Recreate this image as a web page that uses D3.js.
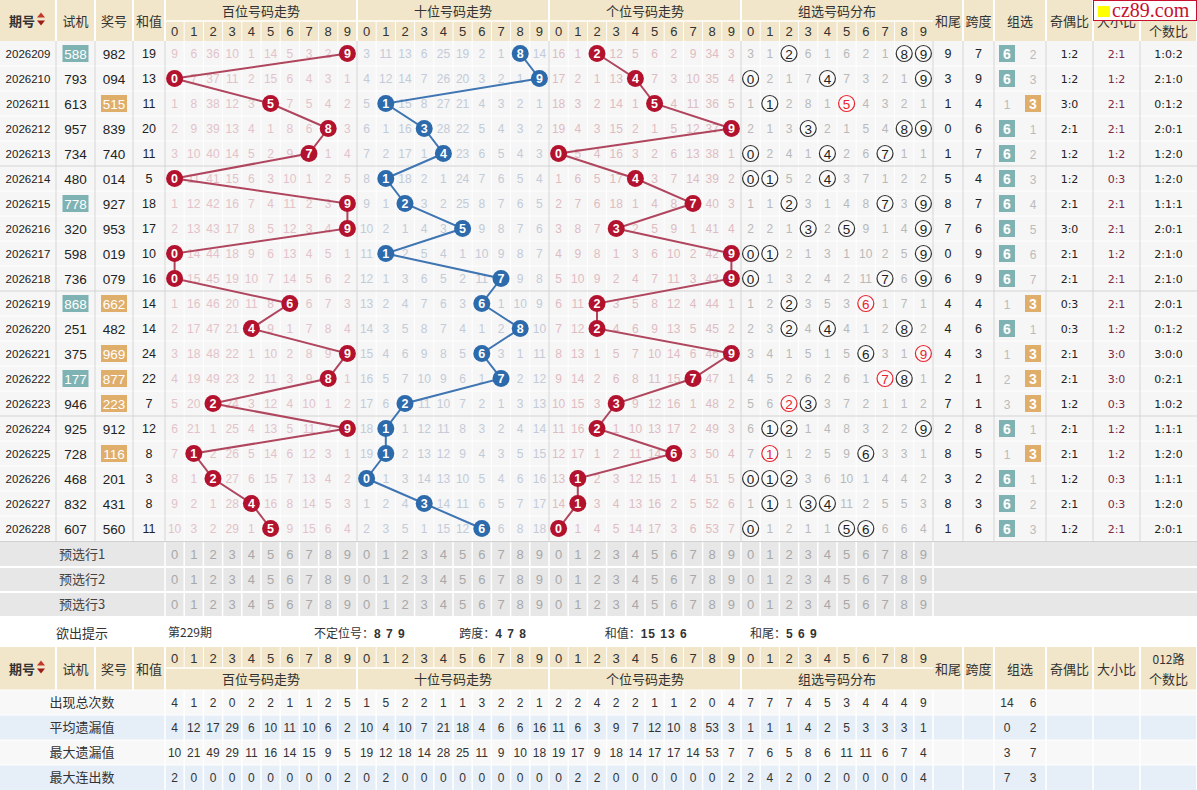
<!DOCTYPE html>
<html>
<head>
<meta charset="utf-8">
<script src="https://cdn.jsdelivr.net/npm/d3@7"></script>
<style>
body { margin: 0; background: #fff; }
svg { display: block; }
</style>
</head>
<body>
<svg id="chart" width="1197" height="790"></svg>
<script>
const width = 1197;
const height = 790;

// 期号、试机号、开奖号、和值
const periods = ["2026209","2026210","2026211","2026212","2026213","2026214","2026215","2026216","2026217","2026218",
    "2026219","2026220","2026221","2026222","2026223","2026224","2026225","2026226","2026227","2026228"];
const testNums = ["588","793","613","957","734","480","778","320","598","736",
    "868","251","375","177","946","925","728","468","832","607"];
const drawNums = ["982","094","515","839","740","014","927","953","019","079",
    "662","482","969","877","223","912","116","201","431","560"];
const sums = [19,13,11,20,11,5,18,17,10,16,14,14,24,22,7,12,8,3,8,11];

// 遗漏值 (0 = 当期开出)
const hundredsMiss = [
    [9,6,36,10,1,14,5,3,2,0],[0,7,37,11,2,15,6,4,3,1],[1,8,38,12,3,0,7,5,4,2],[2,9,39,13,4,1,8,6,0,3],
    [3,10,40,14,5,2,9,0,1,4],[0,11,41,15,6,3,10,1,2,5],[1,12,42,16,7,4,11,2,3,0],[2,13,43,17,8,5,12,3,4,0],
    [0,14,44,18,9,6,13,4,5,1],[0,15,45,19,10,7,14,5,6,2],[1,16,46,20,11,8,0,6,7,3],[2,17,47,21,0,9,1,7,8,4],
    [3,18,48,22,1,10,2,8,9,0],[4,19,49,23,2,11,3,9,0,1],[5,20,0,24,3,12,4,10,1,2],[6,21,1,25,4,13,5,11,2,0],
    [7,0,2,26,5,14,6,12,3,1],[8,1,0,27,6,15,7,13,4,2],[9,2,1,28,0,16,8,14,5,3],[10,3,2,29,1,0,9,15,6,4]
];
const tensMiss = [
    [3,11,13,6,25,19,2,1,0,14],[4,12,14,7,26,20,3,2,1,0],[5,0,15,8,27,21,4,3,2,1],[6,1,16,0,28,22,5,4,3,2],
    [7,2,17,1,0,23,6,5,4,3],[8,0,18,2,1,24,7,6,5,4],[9,1,0,3,2,25,8,7,6,5],[10,2,1,4,3,0,9,8,7,6],
    [11,0,2,5,4,1,10,9,8,7],[12,1,3,6,5,2,11,0,9,8],[13,2,4,7,6,3,0,1,10,9],[14,3,5,8,7,4,1,2,0,10],
    [15,4,6,9,8,5,0,3,1,11],[16,5,7,10,9,6,1,0,2,12],[17,6,0,11,10,7,2,1,3,13],[18,0,1,12,11,8,3,2,4,14],
    [19,0,2,13,12,9,4,3,5,15],[0,1,3,14,13,10,5,4,6,16],[1,2,4,0,14,11,6,5,7,17],[2,3,5,1,15,12,0,6,8,18]
];
const unitsMiss = [
    [16,1,0,12,5,6,2,9,34,3],[17,2,1,13,0,7,3,10,35,4],[18,3,2,14,1,0,4,11,36,5],[19,4,3,15,2,1,5,12,37,0],
    [0,5,4,16,3,2,6,13,38,1],[1,6,5,17,0,3,7,14,39,2],[2,7,6,18,1,4,8,0,40,3],[3,8,7,0,2,5,9,1,41,4],
    [4,9,8,1,3,6,10,2,42,0],[5,10,9,2,4,7,11,3,43,0],[6,11,0,3,5,8,12,4,44,1],[7,12,0,4,6,9,13,5,45,2],
    [8,13,1,5,7,10,14,6,46,0],[9,14,2,6,8,11,15,0,47,1],[10,15,3,0,9,12,16,1,48,2],[11,16,0,1,10,13,17,2,49,3],
    [12,17,1,2,11,14,0,3,50,4],[13,0,2,3,12,15,1,4,51,5],[14,0,3,4,13,16,2,5,52,6],[0,1,4,5,14,17,3,6,53,7]
];
const groupMiss = [
    [3,1,0,6,1,6,2,1,0,0],[0,2,1,7,0,7,3,2,1,0],[1,0,2,8,1,0,4,3,2,1],[2,1,3,0,2,1,5,4,0,0],
    [0,2,4,1,0,2,6,0,1,1],[0,0,5,2,0,3,7,1,2,2],[1,1,0,3,1,4,8,0,3,0],[2,2,1,0,2,0,9,1,4,0],
    [0,0,2,1,3,1,10,2,5,0],[0,1,3,2,4,2,11,0,6,0],[1,2,0,3,5,3,0,1,7,1],[2,3,0,4,0,4,1,2,0,2],
    [3,4,1,5,1,5,0,3,1,0],[4,5,2,6,2,6,1,0,0,1],[5,6,0,0,3,7,2,1,1,2],[6,0,0,1,4,8,3,2,2,0],
    [7,0,1,2,5,9,0,3,3,1],[0,0,0,3,6,10,1,4,4,2],[1,0,1,0,0,11,2,5,5,3],[0,1,2,1,1,0,0,6,6,4]
];

const sumTails = [9,3,1,0,1,5,8,7,0,6,4,4,4,2,7,2,8,3,8,1];
const spans = [7,9,4,6,7,4,7,6,9,9,4,6,3,1,1,8,5,2,3,6];
const group6Miss = [0,0,1,0,0,0,0,0,0,0,1,0,1,2,3,0,1,0,0,0];
const group3Miss = [2,3,0,1,2,3,4,5,6,7,0,1,0,0,0,1,0,1,2,3];
const oddEven = ["1:2","1:2","3:0","2:1","1:2","1:2","2:1","3:0","2:1","2:1","0:3","0:3","2:1","2:1","1:2","2:1","2:1","1:2","2:1","1:2"];
const bigSmall = ["2:1","1:2","2:1","2:1","1:2","0:3","2:1","2:1","1:2","2:1","2:1","1:2","3:0","3:0","0:3","1:2","1:2","0:3","0:3","2:1"];
const road012 = ["1:0:2","2:1:0","0:1:2","2:0:1","1:2:0","1:2:0","1:1:1","2:0:1","2:1:0","2:1:0",
    "2:0:1","0:1:2","3:0:0","0:2:1","1:0:2","1:1:1","1:2:0","1:1:1","1:2:0","2:0:1"];

const sectionNames = ["百位号码走势","十位号码走势","个位号码走势","组选号码分布"];
const preLabels = ["预选行1","预选行2","预选行3"];
const hintTitle = "欲出提示";
const hintIssue = "第229期";
const hintLabels = ["不定位号","跨度","和值","和尾"];
const hintValues = ["8 7 9","4 7 8","15 13 6","5 6 9"];

const statLabels = ["出现总次数","平均遗漏值","最大遗漏值","最大连出数"];
const statValues = [
    [4,1,2,0,2,2,1,1,2,5, 1,5,2,2,1,1,3,2,2,1, 2,2,4,2,2,1,1,2,0,4, 7,7,7,4,5,3,4,4,4,9],
    [4,12,17,29,6,10,11,10,6,2, 10,4,10,7,21,18,4,6,6,16, 11,6,3,9,7,12,10,8,53,3, 1,1,1,4,2,5,3,3,3,1],
    [10,21,49,29,11,16,14,15,9,5, 19,12,18,14,28,25,11,9,10,18, 19,17,9,18,14,17,17,14,53,7, 7,6,5,8,6,11,11,6,7,4],
    [2,0,0,0,0,0,0,0,0,2, 0,2,0,0,0,0,0,0,0,0, 0,2,2,0,0,0,0,0,0,2, 2,4,2,0,2,0,0,0,0,4]
];
const statGroup = [[14,6],[0,2],[3,7],[7,3]];

const fontNum = "'Liberation Sans', Arial, sans-serif";
const fontCJK = "'Noto Sans CJK SC', 'Liberation Sans', sans-serif";

const leftCols = [
    {name: "期号", x0: 0, x1: 56},
    {name: "试机", x0: 56, x1: 95},
    {name: "奖号", x0: 95, x1: 133},
    {name: "和值", x0: 133, x1: 165}
];
const rightCols = [
    {name: "和尾", x0: 933, x1: 963},
    {name: "跨度", x0: 963, x1: 994},
    {name: "组选", x0: 994, x1: 1046},
    {name: "奇偶比", x0: 1046, x1: 1093},
    {name: "大小比", x0: 1093, x1: 1140},
    {name: "012路", x0: 1140, x1: 1197}
];
const mid = c => (c.x0 + c.x1) / 2;

const svg = d3.select("#chart");

const sec = d3.scaleBand().domain(sectionNames).range([165, 933]);
const dig = d3.scaleBand().domain(d3.range(10)).range([0, sec.bandwidth()]);
const cx = (s, k) => sec(sectionNames[s]) + dig(k) + dig.bandwidth() / 2;
const y = d3.scaleBand().domain(periods).range([41, 541]);
const cy = p => y(p) + y.bandwidth() / 2;

const isPair = s => new Set(s.split("")).size < 3;
const pairDigit = s => s.split("").find((c, i, a) => a.indexOf(c) !== i);

const headFill = "#f1e6c9";
const allDigits = d3.range(40).map(i => ({s: Math.floor(i / 10), k: i % 10}));

// ---------- 表头 ----------
function drawHeader(top, digitsFirst) {
    const g = svg.append("g");
    const h = top === 0 ? 41 : 43;
    const half = top === 0 ? 21 : 21;
    g.append("rect").attr("x", 0).attr("y", top).attr("width", width).attr("height", h).attr("fill", headFill);

    const digY = digitsFirst ? top : top + half;
    const titY = digitsFirst ? top + half : top;

    // 白色分隔线
    leftCols.concat(rightCols).forEach(c => {
        g.append("line").attr("x1", c.x1).attr("x2", c.x1).attr("y1", top).attr("y2", top + h)
            .attr("stroke", "#fff").attr("stroke-width", 2);
    });
    sectionNames.forEach((n, s) => {
        g.append("line").attr("x1", sec(n)).attr("x2", sec(n)).attr("y1", top).attr("y2", top + h)
            .attr("stroke", "#fff").attr("stroke-width", 2);
    });
    g.append("line").attr("x1", 165).attr("x2", 933).attr("y1", top + half).attr("y2", top + half)
        .attr("stroke", "#fff").attr("stroke-width", 1.5);
    g.selectAll(".dl").data(allDigits.filter(d => d.k > 0)).enter().append("line")
        .attr("x1", d => sec(sectionNames[d.s]) + dig(d.k)).attr("x2", d => sec(sectionNames[d.s]) + dig(d.k))
        .attr("y1", digY).attr("y2", digY + (digitsFirst ? half : h - half))
        .attr("stroke", "#fff").attr("stroke-width", 1);

    g.selectAll(".tt").data(sectionNames).enter().append("text")
        .attr("x", d => sec(d) + sec.bandwidth() / 2)
        .attr("y", titY + (digitsFirst ? h - half : half) / 2 + 5)
        .attr("text-anchor", "middle").attr("font-family", fontCJK).attr("font-size", 13).attr("fill", "#333")
        .text(d => d);
    g.selectAll(".dt").data(allDigits).enter().append("text")
        .attr("x", d => cx(d.s, d.k)).attr("y", digY + (digitsFirst ? half : h - half) / 2 + 5)
        .attr("text-anchor", "middle").attr("font-family", fontNum).attr("font-size", 13).attr("fill", "#333")
        .text(d => d.k);

    const my = top + h / 2 + 5;
    leftCols.forEach((c, i) => {
        g.append("text").attr("x", i === 0 ? 22 : mid(c)).attr("y", my).attr("text-anchor", "middle")
            .attr("font-family", fontCJK).attr("font-size", 13)
            .attr("font-weight", i === 0 ? "bold" : "normal").attr("fill", "#333").text(c.name);
    });
    // 排序箭头
    g.append("path").attr("d", `M37,${my - 8} l4,-5 l4,5 z`).attr("fill", "#c0392b");
    g.append("path").attr("d", `M37,${my - 5} l4,5 l4,-5 z`).attr("fill", "#9b1c1c");

    rightCols.forEach(c => {
        if (c.name === "012路") {
            g.append("text").attr("x", mid(c)).attr("y", my - 10).attr("text-anchor", "middle")
                .attr("font-family", fontCJK).attr("font-size", 12).attr("fill", "#333").text("012路");
            g.append("text").attr("x", mid(c)).attr("y", my + 10).attr("text-anchor", "middle")
                .attr("font-family", fontCJK).attr("font-size", 13).attr("fill", "#333").text("个数比");
        } else {
            g.append("text").attr("x", mid(c)).attr("y", my).attr("text-anchor", "middle")
                .attr("font-family", fontCJK).attr("font-size", 13).attr("fill", "#333").text(c.name);
        }
    });
}
drawHeader(0, false);

// ---------- 数据区背景 ----------
const body = svg.append("g");
body.append("rect").attr("x", 0).attr("y", 41).attr("width", width).attr("height", 500).attr("fill", "#f6f6f6");
body.selectAll(".rl").data(periods).enter().append("line")
    .attr("x1", 0).attr("x2", width).attr("y1", d => y(d) + y.bandwidth()).attr("y2", d => y(d) + y.bandwidth())
    .attr("stroke", "#fff").attr("stroke-width", 1);
body.selectAll(".vl").data(allDigits.filter(d => d.k > 0)).enter().append("line")
    .attr("x1", d => sec(sectionNames[d.s]) + dig(d.k)).attr("x2", d => sec(sectionNames[d.s]) + dig(d.k))
    .attr("y1", 41).attr("y2", 541).attr("stroke", "#fff").attr("stroke-width", 1);
const borderX = leftCols.map(c => c.x1).concat(sectionNames.map(n => sec(n) + sec.bandwidth()), rightCols.slice(0, 5).map(c => c.x1));
body.selectAll(".bl").data(borderX).enter().append("line")
    .attr("x1", d => d).attr("x2", d => d).attr("y1", 41).attr("y2", 541)
    .attr("stroke", "#d6d6d6").attr("stroke-width", 1);
body.selectAll(".gl").data([4, 9, 14]).enter().append("line")
    .attr("x1", 0).attr("x2", width)
    .attr("y1", d => y(periods[d]) + y.bandwidth()).attr("y2", d => y(periods[d]) + y.bandwidth())
    .attr("stroke", "#d0d0d0").attr("stroke-width", 1);

// ---------- 左侧列 ----------
const rows = body.selectAll(".row").data(periods).enter().append("g");
rows.append("text").attr("x", 28).attr("y", d => cy(d) + 4).attr("text-anchor", "middle")
    .attr("font-family", fontNum).attr("font-size", 11.5).attr("fill", "#222").text(d => d);

function numCell(arr, col, fill) {
    rows.filter((d, i) => isPair(arr[i])).append("rect")
        .attr("x", mid(col) - 13).attr("y", d => cy(d) - 8.5).attr("width", 26).attr("height", 17).attr("fill", fill);
    rows.append("text").attr("x", mid(col)).attr("y", d => cy(d) + 5).attr("text-anchor", "middle")
        .attr("font-family", fontNum).attr("font-size", 13.5)
        .attr("fill", (d, i) => isPair(arr[i]) ? "#fff" : "#222").text((d, i) => arr[i]);
}
numCell(testNums, leftCols[1], "#7fb3b3");
numCell(drawNums, leftCols[2], "#dfae6b");
rows.append("text").attr("x", mid(leftCols[3])).attr("y", d => cy(d) + 4.5).attr("text-anchor", "middle")
    .attr("font-family", fontNum).attr("font-size", 12.5).attr("fill", "#222").text((d, i) => sums[i]);

// ---------- 遗漏值 ----------
const missTables = [hundredsMiss, tensMiss, unitsMiss, groupMiss];
const missColors = ["#e3c3c9", "#c3cbd8", "#dfbcc2", "#b9b9b9"];
missTables.forEach((tab, s) => {
    const cells = [];
    tab.forEach((r, i) => r.forEach((v, k) => { if (v > 0) cells.push({i, k, v}); }));
    body.selectAll(".m" + s).data(cells).enter().append("text")
        .attr("x", d => cx(s, d.k)).attr("y", d => cy(periods[d.i]) + 4.5)
        .attr("text-anchor", "middle").attr("font-family", fontNum).attr("font-size", 12)
        .attr("fill", missColors[s]).text(d => d.v);
});

// ---------- 走势线与号码球 ----------
const ballColors = ["#b3122e", "#2c6aab", "#b3122e"];
const lineColors = ["#b0455e", "#3e75b2", "#b0455e"];
const line = d3.line().x(d => d[0]).y(d => d[1]);
[0, 1, 2].forEach(s => {
    const pts = drawNums.map((n, i) => [cx(s, +n[s]), cy(periods[i])]);
    body.append("path").attr("d", line(pts)).attr("fill", "none")
        .attr("stroke", lineColors[s]).attr("stroke-width", 2);
    const balls = body.selectAll(".b" + s).data(drawNums).enter().append("g");
    balls.append("circle").attr("cx", (d, i) => pts[i][0]).attr("cy", (d, i) => pts[i][1]).attr("r", 8.5)
        .attr("fill", ballColors[s]);
    balls.append("text").attr("x", (d, i) => pts[i][0]).attr("y", (d, i) => pts[i][1] + 4.5)
        .attr("text-anchor", "middle").attr("font-family", fontNum).attr("font-size", 12.5)
        .attr("font-weight", "bold").attr("fill", "#fff").text(d => d[s]);
});

// 组选分布圈
const hits = [];
groupMiss.forEach((r, i) => r.forEach((v, k) => {
    if (v === 0) hits.push({i, k, red: pairDigit(drawNums[i]) === String(k)});
}));
const hg = body.selectAll(".zh").data(hits).enter().append("g");
hg.append("circle").attr("cx", d => cx(3, d.k)).attr("cy", d => cy(periods[d.i])).attr("r", 8)
    .attr("fill", "#fafafa").attr("stroke", d => d.red ? "#e8242f" : "#333").attr("stroke-width", 1.2);
hg.append("text").attr("x", d => cx(3, d.k)).attr("y", d => cy(periods[d.i]) + 5)
    .attr("text-anchor", "middle").attr("font-family", fontNum).attr("font-size", 13.5)
    .attr("fill", d => d.red ? "#e8242f" : "#222").text(d => d.k);

// ---------- 右侧列 ----------
function plainCol(arr, col, color, size, font) {
    rows.append("text").attr("x", mid(col)).attr("y", d => cy(d) + 4.5).attr("text-anchor", "middle")
        .attr("font-family", font || fontNum).attr("font-size", size).attr("fill", color).text((d, i) => arr[i]);
}
plainCol(sumTails, rightCols[0], "#222", 12.5);
plainCol(spans, rightCols[1], "#222", 12.5);
const gc = rightCols[2];
[[group6Miss, "6", "#7fb3b3", gc.x0 + 13], [group3Miss, "3", "#dfae6b", gc.x0 + 39]].forEach(([arr, lab, fill, x]) => {
    rows.filter((d, i) => arr[i] === 0).append("rect").attr("x", x - 8).attr("y", d => cy(d) - 8.5)
        .attr("width", 16).attr("height", 17).attr("fill", fill);
    rows.append("text").attr("x", x).attr("y", d => cy(d) + 5).attr("text-anchor", "middle")
        .attr("font-family", fontNum).attr("font-size", (d, i) => arr[i] === 0 ? 14 : 12)
        .attr("font-weight", (d, i) => arr[i] === 0 ? "bold" : "normal")
        .attr("fill", (d, i) => arr[i] === 0 ? "#fff" : "#bbb")
        .text((d, i) => arr[i] === 0 ? lab : arr[i]);
});
const ratioFont = "'DejaVu Sans', Verdana, sans-serif";
plainCol(oddEven, rightCols[3], "#222", 11, ratioFont);
plainCol(bigSmall, rightCols[4], "#7b2a4a", 11, ratioFont);
plainCol(road012, rightCols[5], "#222", 11, ratioFont);

// ---------- 预选行 ----------
const yPre = d3.scaleBand().domain(preLabels).range([542, 617]);
const pre = svg.append("g");
pre.append("rect").attr("x", 0).attr("y", 541).attr("width", width).attr("height", 76).attr("fill", "#e7e7e7");
pre.append("line").attr("x1", 0).attr("x2", width).attr("y1", 541.5).attr("y2", 541.5).attr("stroke", "#d0d0d0");
preLabels.forEach(lab => {
    const top = yPre(lab);
    pre.append("line").attr("x1", 0).attr("x2", width).attr("y1", top + yPre.bandwidth()).attr("y2", top + yPre.bandwidth())
        .attr("stroke", "#fff").attr("stroke-width", 2);
    pre.append("text").attr("x", 82).attr("y", top + 17).attr("text-anchor", "middle")
        .attr("font-family", fontCJK).attr("font-size", 13).attr("fill", "#444").text(lab);
    pre.selectAll(".pd").data(allDigits).enter().append("text")
        .attr("x", d => cx(d.s, d.k)).attr("y", top + 17).attr("text-anchor", "middle")
        .attr("font-family", fontNum).attr("font-size", 13).attr("fill", "#a8a8a8").text(d => d.k);
});
pre.selectAll(".pv").data(allDigits.map(d => sec(sectionNames[d.s]) + dig(d.k)).concat([933])).enter().append("line")
    .attr("x1", d => d).attr("x2", d => d).attr("y1", 542).attr("y2", 617)
    .attr("stroke", "#fff").attr("stroke-width", 1.5);

// ---------- 欲出提示 ----------
const hint = svg.append("g");
hint.append("text").attr("x", 82).attr("y", 638).attr("text-anchor", "middle")
    .attr("font-family", fontCJK).attr("font-size", 13).attr("fill", "#333").text(hintTitle);
hint.append("text").attr("x", 168).attr("y", 637).attr("font-family", fontCJK).attr("font-size", 12)
    .attr("fill", "#333").text(hintIssue);
const hintX = d3.scalePoint().domain(hintLabels).range([314, 750]);
hintLabels.forEach((lab, i) => {
    const t = hint.append("text").attr("x", hintX(lab)).attr("y", 638).attr("font-size", 12).attr("fill", "#333");
    t.append("tspan").attr("font-family", fontCJK).text(lab + "：");
    t.append("tspan").attr("font-family", fontNum).attr("font-weight", "bold").attr("letter-spacing", 1)
        .text(hintValues[i]);
});

// ---------- 底部表头与统计 ----------
drawHeader(647, true);
const yStat = d3.scaleBand().domain(statLabels).range([690, 790]);
const stat = svg.append("g");
statLabels.forEach((lab, r) => {
    const top = yStat(lab);
    stat.append("rect").attr("x", 0).attr("y", top).attr("width", width).attr("height", yStat.bandwidth())
        .attr("fill", r % 2 ? "#e6eef8" : "#f8f8f8");
    stat.append("text").attr("x", 82).attr("y", top + 17).attr("text-anchor", "middle")
        .attr("font-family", fontCJK).attr("font-size", 13).attr("fill", "#333").text(lab);
    stat.selectAll(".sv").data(statValues[r]).enter().append("text")
        .attr("x", (d, j) => cx(Math.floor(j / 10), j % 10)).attr("y", top + 17).attr("text-anchor", "middle")
        .attr("font-family", fontNum).attr("font-size", 12).attr("fill", "#333").text(d => d);
    stat.selectAll(".sg").data(statGroup[r]).enter().append("text")
        .attr("x", (d, j) => gc.x0 + 13 + 26 * j).attr("y", top + 17).attr("text-anchor", "middle")
        .attr("font-family", fontNum).attr("font-size", 12).attr("fill", "#333").text(d => d);
});
stat.selectAll(".sl").data(allDigits.map(d => sec(sectionNames[d.s]) + dig(d.k)).concat([933], rightCols.map(c => c.x1))).enter()
    .append("line").attr("x1", d => d).attr("x2", d => d).attr("y1", 690).attr("y2", 790)
    .attr("stroke", "#fff").attr("stroke-width", 1.5);
stat.selectAll(".sh").data(statLabels).enter().append("line")
    .attr("x1", 0).attr("x2", width).attr("y1", d => yStat(d)).attr("y2", d => yStat(d))
    .attr("stroke", "#fff").attr("stroke-width", 1);

// ---------- 水印 ----------
const wm = svg.append("g");
wm.append("rect").attr("x", 1093.5).attr("y", 0.5).attr("width", 103).attr("height", 20)
    .attr("fill", "#fff").attr("stroke", "#c8102e");
wm.append("rect").attr("x", 1098).attr("y", 6).attr("width", 12).attr("height", 11).attr("fill", "#ffff00");
wm.append("text").attr("x", 1112).attr("y", 17).attr("font-family", "'Liberation Serif', 'DejaVu Serif', serif")
    .attr("font-size", 20).attr("fill", "#c8102e").text("cz89.com");
</script>
</body>
</html>
